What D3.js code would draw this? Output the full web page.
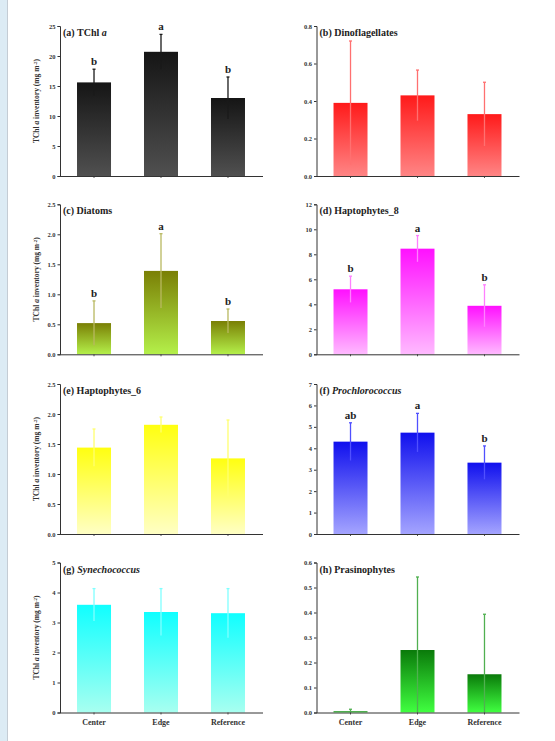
<!DOCTYPE html>
<html><head><meta charset="utf-8">
<script src="https://cdn.jsdelivr.net/npm/d3@7"></script>
<style>body{margin:0;background:#fff}svg{display:block}</style>
</head><body>
<svg id="c" width="555" height="741"></svg>
<script>
const categories = ["Center", "Edge", "Reference"];

const tchlMean = [15.6, 20.7, 13.0];
const tchlSd = [2.2, 2.9, 3.5];
const tchlLetters = ["b", "a", "b"];
const tchlTicks = [0, 5, 10, 15, 20, 25];

const dinoMean = [0.39, 0.43, 0.33];
const dinoSd = [0.33, 0.135, 0.17];
const dinoTicks = [0, 0.2, 0.4, 0.6, 0.8];

const diatomMean = [0.52, 1.39, 0.555];
const diatomSd = [0.37, 0.62, 0.2];
const diatomLetters = ["b", "a", "b"];
const diatomTicks = [0, 0.5, 1.0, 1.5, 2.0, 2.5];

const hapto8Mean = [5.2, 8.45, 3.88];
const hapto8Sd = [1.05, 1.05, 1.68];
const hapto8Letters = ["b", "a", "b"];
const hapto8Ticks = [0, 2, 4, 6, 8, 10, 12];

const hapto6Mean = [1.44, 1.82, 1.26];
const hapto6Sd = [0.31, 0.13, 0.64];
const hapto6Ticks = [0, 0.5, 1.0, 1.5, 2.0, 2.5];

const prochloroMean = [4.31, 4.73, 3.33];
const prochloroSd = [0.88, 0.9, 0.78];
const prochloroLetters = ["ab", "a", "b"];
const prochloroTicks = [0, 1, 2, 3, 4, 5, 6, 7];

const synechoMean = [3.59, 3.35, 3.31];
const synechoSd = [0.54, 0.78, 0.82];
const synechoTicks = [0, 1, 2, 3, 4, 5];

const prasinoMean = [0.005, 0.25, 0.153];
const prasinoSd = [0.008, 0.292, 0.24];
const prasinoTicks = [0, 0.1, 0.2, 0.3, 0.4, 0.5, 0.6];

const panels = [
  {id:"a", label:"(a) ", name:"TChl ", nameItalic:"a", italic:false, mean:tchlMean, sd:tchlSd, letters:tchlLetters, ticks:tchlTicks, fmt:"d", top:"#151515", bottom:"#505050", err:"#1a1a1a", col:0, row:0},
  {id:"b", label:"(b) ", name:"Dinoflagellates", italic:false, mean:dinoMean, sd:dinoSd, letters:null, ticks:dinoTicks, fmt:".1f", top:"#ff1a1a", bottom:"#ff8585", err:"#ff7070", col:1, row:0},
  {id:"c", label:"(c) ", name:"Diatoms", italic:false, mean:diatomMean, sd:diatomSd, letters:diatomLetters, ticks:diatomTicks, fmt:".1f", top:"#7a7f05", bottom:"#b4f04a", err:"#b8b860", col:0, row:1},
  {id:"d", label:"(d) ", name:"Haptophytes_8", italic:false, mean:hapto8Mean, sd:hapto8Sd, letters:hapto8Letters, ticks:hapto8Ticks, fmt:"d", top:"#ff10ff", bottom:"#ffbaff", err:"#ff80ff", col:1, row:1},
  {id:"e", label:"(e) ", name:"Haptophytes_6", italic:false, mean:hapto6Mean, sd:hapto6Sd, letters:null, ticks:hapto6Ticks, fmt:".1f", top:"#ffff10", bottom:"#ffffc4", err:"#ffff70", col:0, row:2},
  {id:"f", label:"(f) ", name:"Prochlorococcus", italic:true, mean:prochloroMean, sd:prochloroSd, letters:prochloroLetters, ticks:prochloroTicks, fmt:"d", top:"#1010ee", bottom:"#a4a4ff", err:"#5050ff", col:1, row:2},
  {id:"g", label:"(g) ", name:"Synechococcus", italic:true, mean:synechoMean, sd:synechoSd, letters:null, ticks:synechoTicks, fmt:"d", top:"#10ffff", bottom:"#a8fff0", err:"#80ffff", col:0, row:3},
  {id:"h", label:"(h) ", name:"Prasinophytes", italic:false, mean:prasinoMean, sd:prasinoSd, letters:null, ticks:prasinoTicks, fmt:".1f", top:"#0a7a0a", bottom:"#40ff40", err:"#50b050", col:1, row:3}
];

const svg = d3.select("#c");
const FONT = "'Liberation Serif','Times New Roman',serif";

// left light-blue strip
svg.append("rect").attr("x",0).attr("y",0).attr("width",7).attr("height",741).attr("fill","#dcebf4");
svg.append("line").attr("x1",7.5).attr("x2",7.5).attr("y1",0).attr("y2",741).attr("stroke","#c4ccd4").attr("stroke-width",1);

const colX = [60, 316.5];
const rowZero = [176, 354.3, 534, 712.5];
const plotH = 150;
const axisLen = 203;

const defs = svg.append("defs");

panels.forEach(p => {
  const x0 = colX[p.col], y0 = rowZero[p.row];
  const g = svg.append("g").attr("transform", `translate(${x0},${y0 - plotH})`);
  const yMax = p.ticks[p.ticks.length - 1];
  const y = d3.scaleLinear().domain([0, yMax]).range([plotH, 0]);
  const x = d3.scaleBand().domain(categories).range([0, 202]).paddingInner(0.4925).paddingOuter(0.254);

  const grad = defs.append("linearGradient").attr("id", "grad" + p.id)
    .attr("x1", 0).attr("y1", 0).attr("x2", 0).attr("y2", 1);
  grad.append("stop").attr("offset", "0%").attr("stop-color", p.top);
  grad.append("stop").attr("offset", "100%").attr("stop-color", p.bottom);

  // bars
  g.selectAll("rect.bar").data(categories).join("rect")
    .attr("class", "bar")
    .attr("x", c => x(c))
    .attr("width", x.bandwidth())
    .attr("y", (c, i) => y(p.mean[i]))
    .attr("height", (c, i) => plotH - y(p.mean[i]))
    .attr("fill", `url(#grad${p.id})`);

  // error bars
  g.selectAll("line.err").data(categories).join("line")
    .attr("class", "err")
    .attr("x1", c => x(c) + x.bandwidth() / 2)
    .attr("x2", c => x(c) + x.bandwidth() / 2)
    .attr("y1", (c, i) => y(Math.max(0, p.mean[i] - p.sd[i])))
    .attr("y2", (c, i) => y(p.mean[i] + p.sd[i]))
    .attr("stroke", p.err).attr("stroke-width", 1.3);
  g.selectAll("line.cap").data(categories).join("line")
    .attr("class", "cap")
    .attr("x1", c => x(c) + x.bandwidth() / 2 - 1.5)
    .attr("x2", c => x(c) + x.bandwidth() / 2 + 1.5)
    .attr("y1", (c, i) => y(p.mean[i] + p.sd[i]))
    .attr("y2", (c, i) => y(p.mean[i] + p.sd[i]))
    .attr("stroke", p.err).attr("stroke-width", 1.3);

  // significance letters
  if (p.letters) {
    g.selectAll("text.let").data(categories).join("text")
      .attr("class", "let")
      .attr("x", c => x(c) + x.bandwidth() / 2)
      .attr("y", (c, i) => y(p.mean[i] + p.sd[i]) - 4)
      .attr("text-anchor", "middle")
      .attr("font-family", FONT).attr("font-weight", "bold").attr("font-size", 11)
      .attr("fill", "#222")
      .text((c, i) => p.letters[i]);
  }

  // y axis
  const yAxis = d3.axisLeft(y).tickValues(p.ticks).tickSize(2.5).tickPadding(2)
    .tickFormat(d3.format(p.fmt));
  const ya = g.append("g").call(yAxis);
  ya.select(".domain").attr("stroke", "#333").attr("stroke-width", 1);
  ya.selectAll(".tick line").attr("stroke", "#333");
  ya.selectAll("text").attr("font-family", FONT).attr("font-weight", "bold")
    .attr("font-size", 6.5).attr("fill", "#333");

  // x axis
  const xa = g.append("g").attr("transform", `translate(0,${plotH})`)
    .call(d3.axisBottom(x).tickSize(2).tickFormat(p.row === 3 ? (d => d) : () => ""));
  xa.select(".domain").remove();
  xa.append("line").attr("x1", 0).attr("x2", axisLen).attr("y1", 0.5).attr("y2", 0.5)
    .attr("stroke", "#333").attr("stroke-width", 1);
  xa.selectAll(".tick line").attr("stroke", "#555");
  xa.selectAll("text").attr("font-family", FONT).attr("font-weight", "bold")
    .attr("font-size", 8).attr("fill", "#333").attr("dy", "0.9em");

  // title
  const t = g.append("text").attr("x", 3).attr("y", 10)
    .attr("font-family", FONT).attr("font-weight", "bold").attr("font-size", 10).attr("fill", "#222");
  t.append("tspan").text(p.label);
  t.append("tspan").attr("font-style", p.italic ? "italic" : "normal").text(p.name);
  if (p.nameItalic) t.append("tspan").attr("font-style", "italic").text(p.nameItalic);

  // y label (left column only)
  if (p.col === 0) {
    const yl = g.append("text")
      .attr("transform", `translate(-21,${plotH / 2}) rotate(-90)`)
      .attr("text-anchor", "middle")
      .attr("font-family", FONT).attr("font-weight", "bold").attr("font-size", 7.5).attr("fill", "#333");
    yl.append("tspan").text("TChl ");
    yl.append("tspan").attr("font-style", "italic").text("a");
    yl.append("tspan").text(" inventory (mg m");
    yl.append("tspan").attr("baseline-shift", "super").attr("font-size", 5).text("-2");
    yl.append("tspan").text(")");
  }
});
</script>
</body></html>
